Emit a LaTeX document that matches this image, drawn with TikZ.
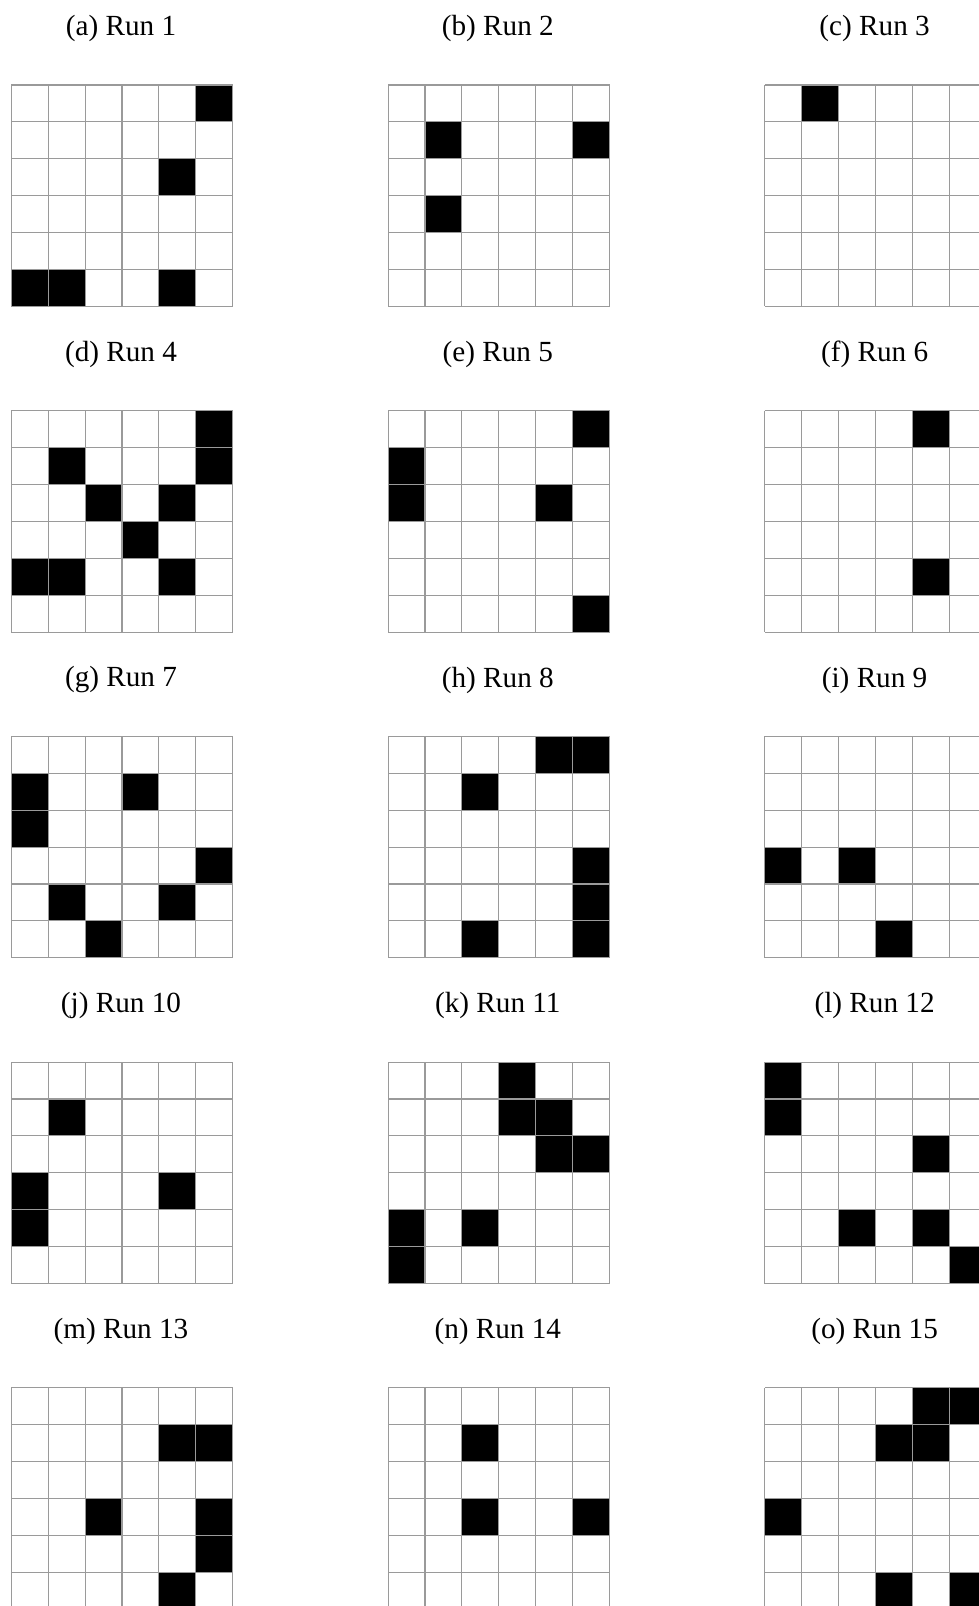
\documentclass[tikz,border=0pt]{standalone}
\usepackage{fontspec}
\setmainfont{Liberation Serif}
\usepackage{tikz}
\usepackage{xcolor}
\definecolor{GridGray}{HTML}{9A9A9A}
\definecolor{CellBlack}{HTML}{000000}
\tikzset{
  gridline/.style={GridGray, line width=0.55pt},
  runlabel/.style={font=\fontsize{14.6}{17}\selectfont, inner sep=0pt}
}
\newcommand{\rungrid}[3]{% left, top, black cells (col/row)
  \begin{scope}[shift={(#1,#2)}]
    \foreach \c/\r in {#3}
      \fill[CellBlack] ({(\c-1)*36.9},{(\r-1)*36.9}) rectangle ++(36.9,36.9);
    \foreach \k in {0,...,6} {
      \draw[gridline] ({\k*36.9},0) -- ({\k*36.9},221.4);
      \draw[gridline] (0,{\k*36.9}) -- (221.4,{\k*36.9});
    }
  \end{scope}
}

\begin{document}
\begin{tikzpicture}[x=0.5pt, y=-0.5pt]

\useasboundingbox (0,0) rectangle (979,1606);
\clip (0,0) rectangle (979,1606);

% Captions
\node[runlabel] (capA) at (121,28.6) {(a) Run 1};
\node[runlabel] (capB) at (497.8,28.6) {(b) Run 2};
\node[runlabel] (capC) at (874.6,28.6) {(c) Run 3};
\node[runlabel] (capD) at (121,354.3) {(d) Run 4};
\node[runlabel] (capE) at (497.8,354.3) {(e) Run 5};
\node[runlabel] (capF) at (874.6,354.3) {(f) Run 6};
\node[runlabel] (capG) at (121,680) {(g) Run 7};
\node[runlabel] (capH) at (497.8,680) {(h) Run 8};
\node[runlabel] (capI) at (874.6,680) {(i) Run 9};
\node[runlabel] (capJ) at (121,1005.7) {(j) Run 10};
\node[runlabel] (capK) at (497.8,1005.7) {(k) Run 11};
\node[runlabel] (capL) at (874.6,1005.7) {(l) Run 12};
\node[runlabel] (capM) at (121,1331.4) {(m) Run 13};
\node[runlabel] (capN) at (497.8,1331.4) {(n) Run 14};
\node[runlabel] (capO) at (874.6,1331.4) {(o) Run 15};

% Row 1
\rungrid{11.3}{85}{6/1, 5/3, 1/6, 2/6, 5/6}
\rungrid{388.1}{85}{2/2, 6/2, 2/4}
\rungrid{764.9}{85}{2/1}

% Row 2
\rungrid{11.3}{410.7}{6/1, 6/2, 2/2, 3/3, 5/3, 4/4, 1/5, 2/5, 5/5}
\rungrid{388.1}{410.7}{6/1, 1/2, 1/3, 5/3, 6/6}
\rungrid{764.9}{410.7}{5/1, 5/5}

% Row 3
\rungrid{11.3}{736.4}{1/2, 1/3, 4/2, 6/4, 2/5, 5/5, 3/6}
\rungrid{388.1}{736.4}{5/1, 6/1, 3/2, 6/4, 6/5, 6/6, 3/6}
\rungrid{764.9}{736.4}{1/4, 3/4, 4/6}

% Row 4
\rungrid{11.3}{1062.1}{2/2, 1/4, 1/5, 5/4}
\rungrid{388.1}{1062.1}{4/1, 4/2, 5/2, 5/3, 6/3, 1/5, 1/6, 3/5}
\rungrid{764.9}{1062.1}{1/1, 1/2, 5/3, 3/5, 5/5, 6/6}

% Row 5
\rungrid{11.3}{1387.8}{5/2, 6/2, 3/4, 6/4, 6/5, 5/6}
\rungrid{388.1}{1387.8}{3/2, 3/4, 6/4}
\rungrid{764.9}{1387.8}{5/1, 6/1, 4/2, 5/2, 1/4, 4/6, 6/6}

\end{tikzpicture}
\end{document}
